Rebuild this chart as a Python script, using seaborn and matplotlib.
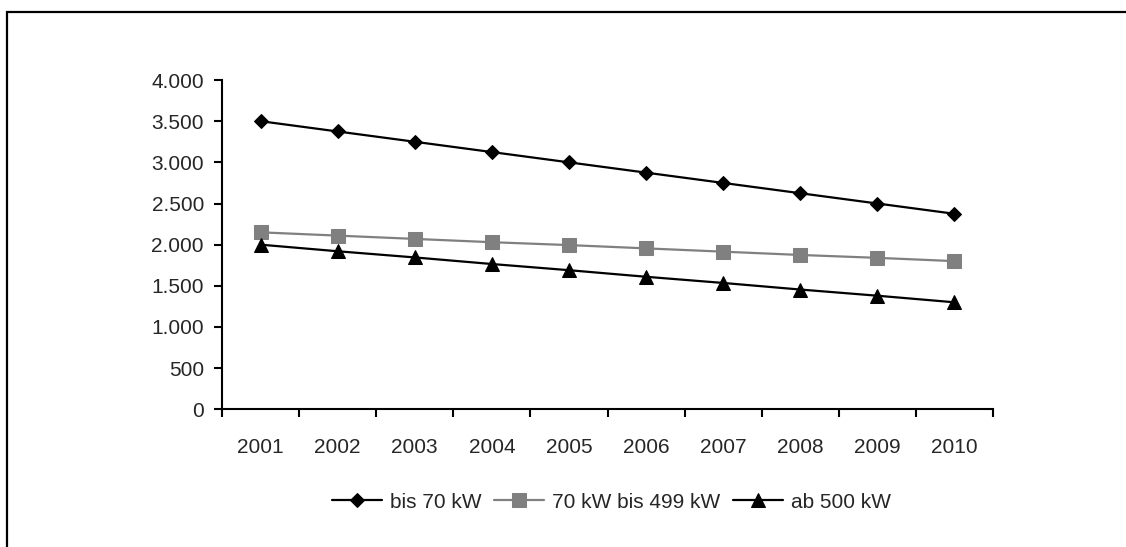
import pandas as pd
import matplotlib.pyplot as plt
import matplotlib.ticker as mticker
from matplotlib.patches import Rectangle
import numpy as np
import seaborn as sns

# Data
years = ["2001", "2002", "2003", "2004", "2005", "2006", "2007", "2008", "2009", "2010"]
bis_70 = [3500, 3375, 3250, 3125, 3000, 2875, 2750, 2625, 2500, 2375]
kw_70_499 = [2150, 2110, 2070, 2030, 1995, 1955, 1915, 1875, 1840, 1800]
ab_500 = [2000, 1920, 1845, 1765, 1690, 1610, 1535, 1455, 1380, 1300]

series = {
    "bis 70 kW": bis_70,
    "70 kW bis 499 kW": kw_70_499,
    "ab 500 kW": ab_500,
}
styles = {
    "bis 70 kW": dict(color="black", marker="D", markersize=7),
    "70 kW bis 499 kW": dict(color="#808080", marker="s", markersize=10),
    "ab 500 kW": dict(color="black", marker="^", markersize=10),
}

df = pd.DataFrame(
    [(y, name, v) for name, vals in series.items() for y, v in zip(years, vals)],
    columns=["Jahr", "Serie", "Wert"],
)
df["pos"] = df["Jahr"].map({y: i for i, y in enumerate(years)})

sns.set_style("white")
plt.rcParams["font.family"] = ["Liberation Sans", "DejaVu Sans"]
fs = 15

fig = plt.figure(figsize=(11.26, 5.47), dpi=100)
ax = fig.add_axes([0.1972, 0.2517, 0.6847, 0.602])

for name in series:
    sub = df[df["Serie"] == name]
    st = styles[name]
    sns.lineplot(data=sub, x="pos", y="Wert", ax=ax, label=name,
                 color=st["color"], marker=st["marker"], markersize=st["markersize"],
                 markeredgecolor=st["color"], markerfacecolor=st["color"],
                 linewidth=1.6, legend=False)

# axes
ax.set_xlim(-0.5, len(years) - 0.5)
ax.set_ylim(0, 4000)
ax.yaxis.set_major_locator(mticker.MultipleLocator(500))
ax.yaxis.set_major_formatter(mticker.FuncFormatter(lambda v, p: f"{v:,.0f}".replace(",", ".")))
ax.set_xticks(range(len(years)))
ax.set_xticklabels(years)
ax.set_xticks(np.arange(-0.5, len(years), 1), minor=True)
ax.tick_params(axis="x", which="major", bottom=False, length=0, pad=21, labelsize=fs)
ax.tick_params(axis="x", which="minor", bottom=True, length=6, width=1.5,
               direction="out", color="black")
ax.tick_params(axis="y", left=True, length=6, width=1.5, direction="out",
               color="black", pad=7, labelsize=fs)
ax.set_xlabel("")
ax.set_ylabel("")
ax.spines["top"].set_visible(False)
ax.spines["right"].set_visible(False)
for s in ["left", "bottom"]:
    ax.spines[s].set_color("black")
    ax.spines[s].set_linewidth(1.5)
ax.grid(False)

handles, labels = ax.get_legend_handles_labels()
fig.legend(handles, labels, loc="center", bbox_to_anchor=(0.543, 0.082), ncol=3,
           frameon=False, handlelength=2.4, handletextpad=0.38, columnspacing=0.62,
           fontsize=fs)

# outer frame (runs off right and bottom edges)
fig.add_artist(Rectangle((7 / 1126, -0.05), 1.1, 1.028, transform=fig.transFigure,
                         fill=False, edgecolor="black", linewidth=1.6, clip_on=False))

fig.savefig("out.png", dpi=100)
